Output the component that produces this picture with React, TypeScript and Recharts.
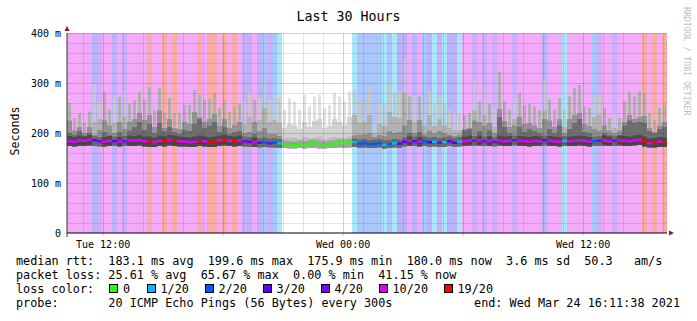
import { ComposedChart, Bar, Cell, Scatter, XAxis, YAxis, ReferenceLine } from 'recharts';

// Tue 10:11:38 expressed as hours since Tue 00:00; 30 hours at 15 min steps
const START_H = 10 + 11 / 60 + 38 / 3600;
const END_H = START_H + 30;
const STEP_H = 0.25;

// loss per step (x/20)
const LOSS = [
  10, 10, 10, 10, 10, 3, 4, 10, 10, 3,
  10, 4, 10, 10, 10, 10, 19, 10, 10, 19,
  10, 19, 10, 10, 10, 10, 19, 10, 19, 19,
  10, 19, 10, 19, 10, 4, 3, 10, 3, 2,
  4, 2, 1, 0, 0, 0, 0, 0, 0, 0,
  0, 0, 0, 0, 0, 0, 0, 1, 2, 2,
  2, 2, 2, 1, 2, 1, 3, 3, 10, 3,
  10, 2, 3, 1, 4, 1, 3, 3, 1, 10,
  10, 4, 10, 4, 10, 4, 10, 10, 10, 4,
  10, 10, 10, 10, 10, 3, 10, 10, 10, 1,
  10, 10, 10, 10, 10, 2, 4, 10, 10, 4,
  10, 10, 10, 10, 10, 19, 10, 19, 10, 19,
];

// median rtt, ms
const MED = [
  184, 183, 186, 185, 187, 186, 184, 183, 185, 184,
  183, 184, 186, 185, 186, 184, 183, 182, 185, 184,
  187, 186, 184, 183, 182, 183, 185, 184, 182, 183,
  186, 187, 185, 184, 186, 184, 183, 182, 181, 182,
  180, 181, 180, 178, 177, 176, 178, 177, 179, 180,
  178, 177, 178, 179, 181, 180, 181, 182, 179, 180,
  178, 179, 180, 177, 178, 180, 179, 183, 185, 184,
  183, 184, 182, 183, 181, 182, 184, 181, 183, 184,
  186, 185, 186, 184, 185, 183, 186, 184, 185, 186,
  185, 184, 183, 185, 184, 186, 185, 184, 183, 185,
  184, 185, 186, 185, 183, 184, 185, 186, 184, 185,
  186, 185, 184, 186, 187, 184, 180, 181, 183, 182,
];

// smoke, ms: lowest ping, darkest core, dark smoke, mid smoke, highest ping
const LOW = [
  174, 173, 174, 174, 175, 174, 173, 173, 174, 174,
  173, 174, 174, 174, 175, 173, 172, 172, 174, 173,
  175, 174, 173, 173, 172, 172, 174, 173, 172, 172,
  174, 175, 174, 173, 174, 173, 172, 172, 171, 172,
  171, 171, 170, 170, 169, 169, 170, 169, 170, 170,
  169, 169, 170, 170, 171, 170, 171, 172, 170, 171,
  170, 170, 171, 169, 170, 171, 170, 173, 174, 174,
  173, 174, 172, 173, 172, 172, 174, 172, 173, 174,
  175, 174, 175, 174, 174, 173, 175, 174, 174, 175,
  174, 174, 173, 174, 174, 175, 174, 174, 173, 174,
  174, 174, 175, 174, 173, 174, 174, 175, 174, 174,
  175, 174, 174, 175, 176, 173, 171, 171, 172, 172,
];
const CORE = [
  194, 192, 195, 193, 196, 194, 192, 192, 194, 193,
  192, 194, 195, 194, 196, 193, 193, 191, 195, 193,
  196, 195, 193, 192, 191, 193, 195, 193, 192, 193,
  195, 196, 194, 193, 195, 193, 192, 191, 190, 191,
  189, 190, 188, 185, 184, 183, 185, 184, 186, 187,
  185, 184, 185, 186, 188, 187, 188, 189, 187, 188,
  186, 187, 188, 185, 186, 188, 187, 191, 193, 193,
  192, 193, 191, 192, 190, 191, 193, 190, 192, 193,
  195, 194, 195, 193, 194, 192, 195, 193, 194, 195,
  194, 193, 192, 194, 193, 195, 194, 193, 192, 194,
  193, 194, 195, 194, 192, 193, 194, 195, 193, 194,
  195, 194, 193, 195, 196, 193, 189, 190, 192, 191,
];
const DARK = [
  200, 196, 204, 195, 200, 196, 206, 202, 196, 200,
  202, 208, 205, 212, 222, 206, 218, 200, 220, 204,
  212, 202, 198, 206, 204, 218, 228, 210, 215, 222,
  202, 212, 198, 202, 204, 200, 202, 198, 204, 210,
  198, 198, 194, 190, 191, 190, 188, 192, 190, 191,
  193, 188, 190, 192, 191, 190, 193, 195, 196, 197,
  200, 192, 196, 194, 204, 200, 202, 215, 200, 200,
  202, 197, 205, 199, 204, 200, 196, 194, 196, 205,
  208, 225, 204, 215, 205, 200, 232, 212, 200, 215,
  212, 202, 208, 204, 200, 228, 208, 200, 215, 200,
  208, 220, 228, 202, 200, 208, 205, 200, 196, 200,
  196, 215, 225, 220, 222, 220, 204, 200, 208, 212,
];
const MID = [
  225, 205, 212, 200, 212, 222, 228, 225, 215, 220,
  222, 232, 222, 228, 240, 226, 236, 212, 245, 210,
  228, 210, 208, 222, 218, 242, 232, 222, 228, 238,
  215, 228, 210, 216, 222, 218, 232, 222, 226, 250,
  222, 226, 220, 210, 218, 215, 208, 222, 212, 224,
  228, 210, 214, 228, 222, 216, 232, 236, 220, 222,
  236, 200, 218, 214, 242, 232, 230, 280, 226, 222,
  226, 215, 236, 214, 228, 215, 210, 206, 206, 208,
  210, 245, 222, 236, 220, 212, 248, 224, 212, 228,
  232, 218, 220, 215, 210, 245, 225, 212, 228, 212,
  228, 236, 240, 218, 214, 232, 236, 215, 205, 210,
  205, 222, 236, 228, 232, 234, 210, 202, 215, 222,
];
const HI = [
  260, 230, 240, 220, 243, 298, 263, 282, 246, 276,
  272, 284, 259, 266, 283, 266, 292, 246, 290, 240,
  270, 240, 240, 256, 256, 286, 276, 266, 268, 280,
  250, 266, 243, 253, 259, 263, 281, 266, 270, 300,
  266, 276, 270, 246, 270, 263, 246, 276, 253, 273,
  276, 250, 256, 280, 273, 263, 283, 286, 266, 263,
  290, 220, 259, 256, 300, 280, 283, 349, 273, 276,
  273, 253, 283, 256, 276, 256, 245, 240, 238, 236,
  240, 306, 263, 290, 259, 246, 323, 263, 246, 270,
  280, 256, 259, 253, 246, 306, 266, 246, 270, 246,
  273, 290, 296, 253, 250, 276, 280, 250, 230, 240,
  230, 263, 283, 273, 283, 280, 240, 226, 250, 256,
];

const TIME_TICKS = [12, 18, 24, 30, 36];
const TIME_LABELS: Record<number, string> = { 12: 'Tue 12:00', 24: 'Wed 00:00', 36: 'Wed 12:00' };
const HOUR_MINOR = [11, 13, 14, 15, 16, 17, 19, 20, 21, 22, 23, 25, 26, 27, 28, 29, 31, 32, 33, 34, 35, 37, 38, 39, 40];
const MS_TICKS = [0, 100, 200, 300, 400];
const MS_MINOR = [20, 40, 60, 80, 120, 140, 160, 180, 220, 240, 260, 280, 320, 340, 360, 380];

const LEGEND_LOSS = [0, 1, 2, 3, 4, 10, 19];
const LEGEND_LABELS = ['0', '1/20', '2/20', '3/20', '4/20', '10/20', '19/20'];

const LOSS_COLOR: Record<number, string> = {
  0: '#26ff00', 1: '#00b8ff', 2: '#0059ff', 3: '#5e00ff', 4: '#7e00ff', 10: '#dd00ff', 19: '#ff0000',
};
const LOSS_BG: Record<number, string> = {
  0: '#ffffff', 1: '#aae6fb', 2: '#aac6fb', 3: '#bcb2fb', 4: '#ccaefb', 10: '#f2aaf9', 19: '#f9aca6',
};
// smoke greys get darker when fewer pings come back: [hi, mid, dark, core]
const SMOKE = [
  ['#e2e2e2', '#d2d2d2', '#bebebe', '#a2a2a2'],
  ['#c8c8c8', '#b2b2b2', '#8e8e8e', '#6a6a6a'],
  ['#b0b0b0', '#939393', '#6e6e6e', '#4a4a4a'],
];
const smokeGroup = (loss: number) => (loss === 0 ? 0 : loss < 10 ? 1 : 2);

type Row = {
  i: number; t: number; loss: number; low: number; core: number; dark: number; mid: number; hi: number; med: number; top: number;
};

const rows: Row[] = LOSS.map((loss, i) => ({
  i,
  t: START_H + (i + 0.5) * STEP_H,
  loss,
  low: LOW[i],
  core: CORE[i],
  dark: DARK[i],
  mid: MID[i],
  hi: HI[i],
  med: MED[i],
  top: 400,
}));

const MONO = '"DejaVu Sans Mono", monospace';
// outer spikes are thin, the inner smoke fills the whole step
const LAYERS: { id: string; key: keyof Row; shade: number; size?: number }[] = [
  { id: 'hi', key: 'hi', shade: 0, size: 3 },
  { id: 'mid', key: 'mid', shade: 1 },
  { id: 'dark', key: 'dark', shade: 2 },
  { id: 'core', key: 'core', shade: 3 },
];

function MedianMark(props: any) {
  const { cx, cy, payload } = props;
  if (cx == null || cy == null) return null;
  return <rect x={cx - 2.5} y={cy - 1} width={5} height={2.5} fill={LOSS_COLOR[payload.loss]} />;
}

function Overlay() {
  const boxX = [109, 147, 205, 263, 321, 379, 444];
  const labelX = [123, 160.5, 218.5, 276.5, 334.5, 392.5, 457.5];
  return (
    <svg width={697} height={321} style={{ position: 'absolute', left: 0, top: 0, pointerEvents: 'none' }}>
      <text x={348.5} y={20.5} textAnchor="middle" fontFamily={MONO} fontSize={13.3}>Last 30 Hours</text>
      <text transform="translate(18.5,131) rotate(-90)" textAnchor="middle" fontFamily={MONO} fontSize={11.6}>Seconds</text>
      <text transform="translate(684,7) rotate(90)" fontFamily={MONO} fontSize={8.2} fill="#bdbdbd">RRDTOOL / TOBI OETIKER</text>
      <line x1={67} y1={233} x2={67} y2={237} stroke="#333" />
      <polygon points="67,26 64.5,31 69.5,31" fill="#8b1a1a" />
      <polygon points="674,233 669,230.5 669,235.5" fill="#8b1a1a" />
      <g fontFamily={MONO} fontSize={11.8}>
        <text x={16} y={264.5} xmlSpace="preserve">median rtt:  183.1 ms avg  199.6 ms max  175.9 ms min  180.0 ms now  3.6 ms sd  50.3   am/s</text>
        <text x={16} y={278.5} xmlSpace="preserve">packet loss: 25.61 % avg  65.67 % max  0.00 % min  41.15 % now</text>
        <text x={16} y={292.5}>loss color:</text>
        {LEGEND_LOSS.map((l, k) => (
          <g key={l}>
            <rect x={boxX[k] + 0.5} y={284.5} width={8} height={8} fill={LOSS_COLOR[l]} stroke="#000" strokeWidth={1} />
            <text x={labelX[k]} y={292.5}>{LEGEND_LABELS[k]}</text>
          </g>
        ))}
        <text x={16} y={306.5} xmlSpace="preserve">probe:       20 ICMP Echo Pings (56 Bytes) every 300s</text>
        <text x={680} y={306.5} textAnchor="end">end: Wed Mar 24 16:11:38 2021</text>
      </g>
    </svg>
  );
}

export default function App() {
  return (
    <div style={{ position: 'absolute', left: 0, top: 0, width: 697, height: 321, background: '#fff' }}>
      <ComposedChart
        width={697}
        height={321}
        data={rows}
        margin={{ top: 33, right: 30, bottom: 68, left: 7 }}
        barCategoryGap={0}
        barGap={0}
      >
        <XAxis
          xAxisId="time"
          dataKey="t"
          type="number"
          domain={[START_H, END_H]}
          allowDataOverflow
          ticks={TIME_TICKS}
          tickFormatter={(v: number) => TIME_LABELS[v] ?? ''}
          height={20}
          tickSize={3}
          tickMargin={5}
          axisLine={{ stroke: '#000' }}
          tickLine={{ stroke: 'rgba(255,0,0,0.3)' }}
          tick={{ fontFamily: MONO, fontSize: 10, fill: '#000' }}
        />
        <XAxis xAxisId="bg" dataKey="i" type="category" hide height={0} />
        {LAYERS.map((l) => (
          <XAxis key={l.id} xAxisId={l.id} dataKey="i" type="category" hide height={0} />
        ))}
        <YAxis
          domain={[0, 400]}
          ticks={MS_TICKS}
          allowDataOverflow
          width={60}
          tickSize={4}
          tickMargin={2}
          tickLine={false}
          axisLine={{ stroke: '#333' }}
          tickFormatter={(v: number) => (v === 0 ? '0' : `${v} m`)}
          tick={{ fontFamily: MONO, fontSize: 10, fill: '#000' }}
        />
        <Bar xAxisId="bg" dataKey="top" isAnimationActive={false}>
          {rows.map((r) => (
            <Cell key={r.i} fill={LOSS_BG[r.loss]} />
          ))}
        </Bar>
        {LAYERS.map((l) => (
          <Bar
            key={l.id}
            xAxisId={l.id}
            dataKey={(r: Row) => [r.low, r[l.key] as number]}
            barSize={l.size}
            isAnimationActive={false}
          >
            {rows.map((r) => (
              <Cell key={r.i} fill={SMOKE[smokeGroup(r.loss)][l.shade]} />
            ))}
          </Bar>
        ))}
        {MS_MINOR.map((v) => (
          <ReferenceLine key={`hm${v}`} xAxisId="time" y={v} stroke="rgba(0,0,0,0.1)" shapeRendering="crispEdges" />
        ))}
        {HOUR_MINOR.map((h) => (
          <ReferenceLine key={`vm${h}`} xAxisId="time" x={h} stroke="rgba(0,0,0,0.1)" shapeRendering="crispEdges" />
        ))}
        {MS_TICKS.slice(1).map((v) => (
          <ReferenceLine key={`hM${v}`} xAxisId="time" y={v} stroke="rgba(255,0,0,0.25)" shapeRendering="crispEdges" />
        ))}
        {TIME_TICKS.map((h) => (
          <ReferenceLine key={`vM${h}`} xAxisId="time" x={h} stroke="rgba(255,0,0,0.25)" shapeRendering="crispEdges" />
        ))}
        <Scatter xAxisId="bg" dataKey="med" shape={MedianMark} isAnimationActive={false} />
      </ComposedChart>
      <Overlay />
    </div>
  );
}
